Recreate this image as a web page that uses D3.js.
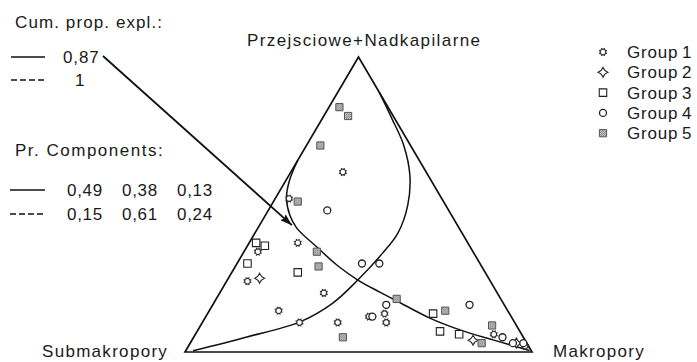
<!DOCTYPE html>
<html>
<head>
<meta charset="utf-8">
<script src="https://cdn.jsdelivr.net/npm/d3@7"></script>
<style>
  html, body { margin: 0; padding: 0; background: #fff; }
  svg { display: block; }
  text { font-family: "Liberation Sans", Arial, sans-serif; fill: #1a1a1a; }
</style>
</head>
<body>
<svg id="chart" width="697" height="362"></svg>
<script>
// Vertex labels: [left, right, top]
const vertexLabels = ["Submakropory", "Makropory", "Przejsciowe+Nadkapilarne"];

// Compositions in %: [Submakropory, Makropory, Przejsciowe+Nadkapilarne]
const group1 = [[24,15,61],[44,4,52],[49,14,37],[62,4,34],[70,6,24],[50,30,20],[66,20,14],
                [62,28,10],[51,39,10],[41,47,12],[36,51,13],[37,53,10],[8,86,6],[1,97,2]];
const group2 = [[66,9,25],[15,81,4],[3,94,3]];
const group3 = [[61,2,37],[59,5,36],[67,3,30],[54,19,27],[22,65,13],[23,70,7],[18,76,6]];
const group4 = [[35,17,48],[34,36,30],[29,41,30],[34,50,16],[40,48,12],[10,74,16],[6,89,5],[4,93,3],[1,96,3]];
const group5 = [[14,3,83],[13,7,80],[26,4,70],[42,7,51],[45,21,34],[47,24,29],[52,43,5],
                [30,52,18],[18,68,14],[7,84,9],[13,84,3]];
const groupNames = ["Group", "Group", "Group", "Group", "Group"];
const groupIds = ["1", "2", "3", "4", "5"];

// Principal curves (same composition order)
const curve087 = [[35,0,65],[40.7,1,58.3],[44.5,3,52.5],[46.6,7,46.4],[46.8,11.2,42],[44.2,20.2,35.6],
                  [41.5,29,29.5],[38,37.6,24.4],[33.7,46,20.3],[30.3,52.4,17.3],[23.7,64.8,11.5],
                  [17,75.5,7.5],[9.2,86.7,4.1],[0.5,99,0.5]];
const curve1 = [[97.5,2.1,0.4],[79.6,15.3,5.1],[61.8,28,10.2],[49.1,34.3,16.6],[38,37.6,24.4],
                [26.2,40.2,33.6],[18.5,41.2,40.3],[10.9,39.3,49.8],[5.2,34.8,60],[1.9,27.9,70.2],
                [0.8,19.9,79.3],[0,12,88]];
// Where the "0,87" pointer lands on its curve
const pointerTarget = [47.7, 9.3, 43];

// Legend texts
const cumPropTitle = "Cum. prop. expl.:";
const cumPropExpl = ["0,87", "1"];
const prCompTitle = "Pr. Components:";
const prComponents = [["0,49", "0,38", "0,13"], ["0,15", "0,61", "0,24"]];

const svg = d3.select("#chart");

// Ternary -> plane: X = makro + top/2, Y = top
const xScale = d3.scaleLinear().domain([0, 1]).range([185, 532]);
const yScale = d3.scaleLinear().domain([0, 1]).range([352, 57]);
function project(c) {
  const s = c[0] + c[1] + c[2];
  const r = c[1] / s, t = c[2] / s;
  return [xScale(r + t / 2), yScale(t)];
}

// Triangle frame
const corners = [[100, 0, 0], [0, 100, 0], [0, 0, 100]].map(project);
svg.append("path")
  .attr("d", d3.line()(corners) + "Z")
  .attr("fill", "none").attr("stroke", "#111").attr("stroke-width", 1.7)
  .attr("stroke-linejoin", "miter");

// Curves
const curveLine = d3.line().curve(d3.curveCatmullRom.alpha(0.5));
[curve087, curve1].forEach(cv => {
  svg.append("path")
    .attr("d", curveLine(cv.map(project)))
    .attr("fill", "none").attr("stroke", "#111").attr("stroke-width", 1.5);
});

// Helper for spaced text
function label(x, y, str, size, spacing, anchor) {
  return svg.append("text").attr("x", x).attr("y", y)
    .attr("font-size", size).attr("letter-spacing", spacing)
    .attr("text-anchor", anchor || "start").text(str);
}

// Vertex labels
label(247, 46, vertexLabels[2], 17, 1.4);
label(42, 357, vertexLabels[0], 17, 1.3);
label(553, 357, vertexLabels[1], 17, 1.3);

// Stipple pattern for group 5
const defs = svg.append("defs");
const pat = defs.append("pattern").attr("id", "stip").attr("patternUnits", "userSpaceOnUse")
  .attr("width", 2).attr("height", 2);
pat.append("rect").attr("width", 2).attr("height", 2).attr("fill", "#cfcfcf");
pat.append("rect").attr("width", 1).attr("height", 1).attr("fill", "#7a7a7a");
pat.append("rect").attr("x", 1).attr("y", 1).attr("width", 1).attr("height", 1).attr("fill", "#8a8a8a");

// Arrow marker
defs.append("marker").attr("id", "arrow").attr("viewBox", "0 0 12 8")
  .attr("refX", 12).attr("refY", 4).attr("markerWidth", 12).attr("markerHeight", 8)
  .attr("markerUnits", "userSpaceOnUse").attr("orient", "auto")
  .append("path").attr("d", "M0,0L12,4L0,8L2,4Z").attr("fill", "#111");

// Four-point star symbol
const star4 = {
  draw(ctx, size) {
    const r = Math.sqrt(size) * 0.75, k = r * 0.28;
    ctx.moveTo(0, -r);
    ctx.quadraticCurveTo(k, -k, r, 0);
    ctx.quadraticCurveTo(k, k, 0, r);
    ctx.quadraticCurveTo(-k, k, -r, 0);
    ctx.quadraticCurveTo(-k, -k, 0, -r);
    ctx.closePath();
  }
};

// Small toothed ring
const gear = {
  draw(ctx, size) {
    const r = Math.sqrt(size) * 0.5;
    ctx.moveTo(r, 0);
    ctx.arc(0, 0, r, 0, 2 * Math.PI);
    for (let i = 0; i < 8; i++) {
      const a = i * Math.PI / 4 + Math.PI / 8;
      ctx.moveTo(Math.cos(a) * r, Math.sin(a) * r);
      ctx.lineTo(Math.cos(a) * (r + 1.4), Math.sin(a) * (r + 1.4));
    }
  }
};

// Marker drawers per group
function drawMark(g, gi) {
  if (gi === 0) {
    g.append("path").attr("d", d3.symbol().type(gear).size(32)())
      .attr("fill", "#fff").attr("stroke", "#333").attr("stroke-width", 1.2);
  } else if (gi === 1) {
    g.append("path").attr("d", d3.symbol().type(star4).size(42)())
      .attr("fill", "#fff").attr("stroke", "#222").attr("stroke-width", 1.1);
  } else if (gi === 2) {
    g.append("path").attr("d", d3.symbol().type(d3.symbolSquare).size(56)())
      .attr("fill", "#fff").attr("stroke", "#222").attr("stroke-width", 1.1);
  } else if (gi === 3) {
    g.append("circle").attr("r", 3.5).attr("fill", "#fff").attr("stroke", "#222").attr("stroke-width", 1.3);
  } else {
    g.append("path").attr("d", d3.symbol().type(d3.symbolSquare).size(52)())
      .attr("fill", "url(#stip)").attr("stroke", "#555").attr("stroke-width", 1);
  }
}

const groups = [group1, group2, group3, group4, group5];
groups.forEach((data, gi) => {
  svg.append("g").selectAll("g").data(data).join("g")
    .attr("transform", d => `translate(${project(d)})`)
    .each(function () { drawMark(d3.select(this), gi); });
});

// Group legend
groupNames.forEach((name, i) => {
  const y = 52 + i * 20.3;
  const g = svg.append("g").attr("transform", `translate(603,${y})`);
  drawMark(g, i);
  label(627, y + 6, name, 17, 0.8);
  label(682, y + 6, groupIds[i], 17, 0);
});

// Cumulative proportion legend
label(15, 28, cumPropTitle, 17, 1.1);
const cumY = [57, 80];
cumPropExpl.forEach((v, i) => {
  svg.append("line").attr("x1", 11).attr("x2", 45).attr("y1", cumY[i]).attr("y2", cumY[i])
    .attr("stroke", "#111").attr("stroke-width", 1.5)
    .attr("stroke-dasharray", i ? "6,3" : null);
  label(i ? 75 : 63, cumY[i] + 6, v, 17, 0.9);
});

// Pointer from "0,87" to its curve
const tgt = project(pointerTarget);
svg.append("line").attr("x1", 103).attr("y1", 56).attr("x2", tgt[0]).attr("y2", tgt[1])
  .attr("stroke", "#111").attr("stroke-width", 1.8).attr("marker-end", "url(#arrow)");

// Principal components legend
label(15, 156, prCompTitle, 17, 1.5);
const pcY = [196, 220];
const pcX = [67, 122, 177];
prComponents.forEach((row, i) => {
  svg.append("line").attr("x1", 10).attr("x2", 45).attr("y1", pcY[i] - 6).attr("y2", pcY[i] - 6)
    .attr("stroke", "#111").attr("stroke-width", 1.5)
    .attr("stroke-dasharray", i ? "6,3" : null);
  row.forEach((v, j) => label(pcX[j], pcY[i], v, 17, 0.7));
});
</script>
</body>
</html>
